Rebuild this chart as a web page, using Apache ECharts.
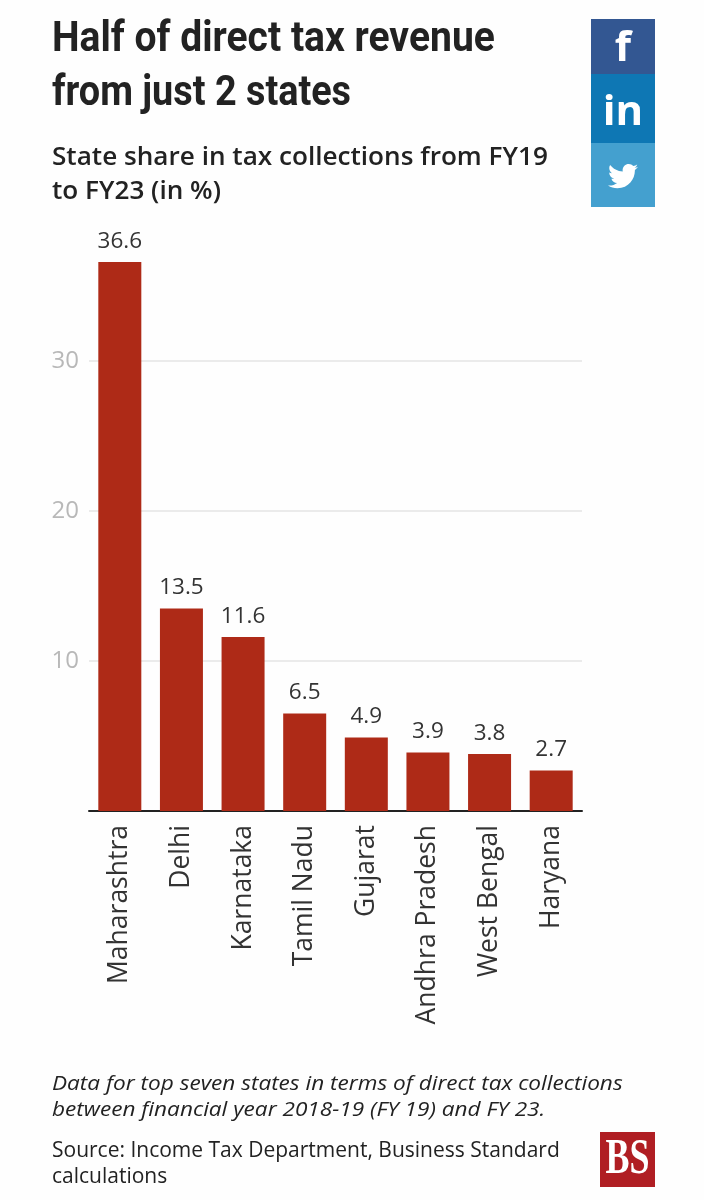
<!DOCTYPE html>
<html><head><meta charset="utf-8">
<style>html,body{margin:0;padding:0;background:#fff}#c{width:704px;height:1200px}</style>
<script src="https://cdn.jsdelivr.net/npm/echarts@6/dist/echarts.min.js"></script>
</head><body><div id="c"></div>
<script>
const categories = ['Maharashtra','Delhi','Karnataka','Tamil Nadu','Gujarat','Andhra Pradesh','West Bengal','Haryana'];
const shares = [36.6,13.5,11.6,6.5,4.9,3.9,3.8,2.7];
const titleLines = ['Half of direct tax revenue','from just 2 states'];
const subtitleLines = ['State share in tax collections from FY19','to FY23 (in %)'];
const noteLines = ['Data for top seven states in terms of direct tax collections','between financial year 2018-19 (FY 19) and FY 23.'];
const sourceLines = ['Source: Income Tax Department, Business Standard','calculations'];
const F = '"Open Sans"';
const txt = (text,x,y,size,weight,style,family,sx) => ({type:'text',x,y,scaleX:sx||1,style:{text,fontSize:size,fontWeight:weight,fontStyle:style,fontFamily:family,fill:'#222',verticalAlign:'middle'}});
const birdPath = 'M24 4.6c-.9.4-1.8.7-2.8.8 1-.6 1.8-1.6 2.2-2.7-1 .6-2 1-3.1 1.2C19.3 2.9 18 2.3 16.6 2.3c-2.7 0-4.9 2.2-4.9 4.9 0 .4 0 .8.1 1.1C7.7 8.1 4.1 6.1 1.7 3.1 1.2 3.9 1 4.7 1 5.6c0 1.7.9 3.2 2.2 4.1-.8 0-1.6-.2-2.2-.6v.1c0 2.4 1.7 4.4 3.9 4.8-.4.1-.8.2-1.3.2-.3 0-.6 0-.9-.1.6 2 2.4 3.4 4.6 3.4-1.7 1.3-3.8 2.1-6.1 2.1-.4 0-.8 0-1.2-.1 2.2 1.4 4.8 2.2 7.5 2.2 9.1 0 14-7.5 14-14v-.6c1-.7 1.8-1.6 2.5-2.5z';
echarts.graphic.registerShape('bird', echarts.graphic.extendPath(birdPath,{}));
const chart = echarts.init(document.getElementById('c'),null,{renderer:'canvas'});
chart.setOption({
  animation:false,
  backgroundColor:'#fefefe',
  grid:{left:89,right:122,top:211,height:600,containLabel:false},
  xAxis:{type:'category',data:categories,
    axisLine:{lineStyle:{color:'#222',width:2}},axisTick:{show:false},
    axisLabel:{rotate:90,fontSize:26.5,color:'#333',fontFamily:F,margin:14,interval:0}},
  yAxis:{type:'value',min:0,max:40,interval:10,
    axisLine:{show:false},axisTick:{show:false},
    splitLine:{showMinLine:false,showMaxLine:false,lineStyle:{color:'#e4e4e4',width:1.5}},
    axisLabel:{fontSize:24,color:'#b8b8b8',fontFamily:F,margin:10,padding:[3,0,0,0],formatter:v=>(v===0||v===40)?'':String(v)}},
  series:[{type:'bar',data:shares,barWidth:43,itemStyle:{color:'#ae2a17'},
    label:{show:true,position:'top',distance:9,fontSize:22.5,color:'#333',fontFamily:F,formatter:p=>p.value.toFixed(1)}}],
  graphic:[
    txt(titleLines[0],52,40,42,'bold','normal','Roboto',0.93),
    txt(titleLines[1],52,94,42,'bold','normal','Roboto',0.9),
    txt(subtitleLines[0],52,158,26,'600','normal',F,1.005),
    txt(subtitleLines[1],52,192,26,'600','normal',F,1.005),
    txt(noteLines[0],52,1084,20,'normal','italic',F,1.13),
    txt(noteLines[1],52,1110,20,'normal','italic',F,1.13),
    txt(sourceLines[0],52,1151,21,'normal','normal',F,1),
    txt(sourceLines[1],52,1177,21,'normal','normal',F,1),
    {type:'rect',shape:{x:591,y:19,width:64,height:55},style:{fill:'#335792'}},
    {type:'rect',shape:{x:591,y:74,width:64,height:69},style:{fill:'#0e77b4'}},
    {type:'rect',shape:{x:591,y:143,width:64,height:64},style:{fill:'#44a0cf'}},
    {type:'text',x:623,y:49,style:{text:'f',fontSize:42,fontWeight:'bold',fontFamily:'"Open Sans"',fill:'#fff',align:'center',verticalAlign:'middle'}},
    {type:'text',x:623,y:113,style:{text:'in',fontSize:42,fontWeight:'bold',fontFamily:'"Open Sans"',fill:'#fff',align:'center',verticalAlign:'middle'}},
    {type:'bird',x:608,y:161,scaleX:1.25,scaleY:1.25,style:{fill:'#fff'}},
    {type:'rect',shape:{x:600,y:1132,width:55,height:55},style:{fill:'#b01e23'}},
    {type:'text',x:627.5,y:1160,scaleX:0.72,style:{text:'BS',fontSize:50,fontWeight:'bold',fontFamily:'"Liberation Serif"',fill:'#fff',align:'center',verticalAlign:'middle'}}
  ]
});
</script></body></html>
